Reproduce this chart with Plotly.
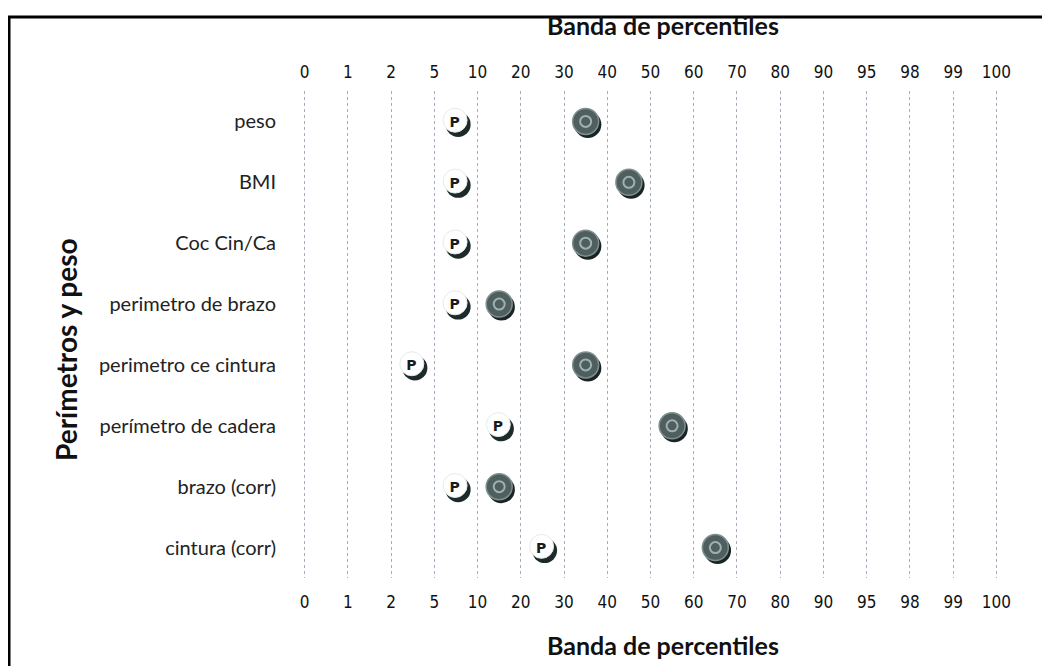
import plotly.graph_objects as go

# ---- data ----
tick_labels = ["0", "1", "2", "5", "10", "20", "30", "40", "50", "60",
               "70", "80", "90", "95", "98", "99", "100"]
rows = ["peso", "BMI", "Coc Cin/Ca", "perimetro de brazo", "perimetro ce cintura",
        "perímetro de cadera", "brazo (corr)", "cintura (corr)"]
# positions expressed in percentile-band index units (band between ticks = .5)
p_band = [3.5, 3.5, 3.5, 3.5, 2.5, 4.5, 3.5, 5.5]
c_band = [6.5, 7.5, 6.5, 4.5, 6.5, 8.5, 4.5, 9.5]

W, H = 1050, 666
OFF = 8  # page body margin
ML, MR, MT, MB = 275, 40, 83, 96
PW, PH = W - ML - MR, H - MT - MB
xunit = PW / 17.0
yunit = PH / 8.0
dx, dy = 2.2 / xunit, 3.0 / yunit

fnt = "Liberation Sans Narrow, DejaVu Sans Condensed, Lato, sans-serif"

fig = go.Figure()
yidx = list(range(len(rows)))

# P markers: shadow, white disk, letter
fig.add_trace(go.Scatter(x=[v + dx for v in p_band], y=[i + dy for i in yidx], mode="markers",
                         marker=dict(size=25, color="#1e2a2a"), hoverinfo="skip", showlegend=False))
fig.add_trace(go.Scatter(x=[v - 0.02 for v in p_band], y=[i - 0.02 for i in yidx], mode="markers",
                         marker=dict(size=24, color="white", line=dict(color="#e4ecec", width=1)),
                         hoverinfo="skip", showlegend=False))
fig.add_trace(go.Scatter(x=[v - 0.03 for v in p_band], y=[i + 0.03 for i in yidx], mode="text",
                         text=["<b>P</b>"] * len(rows), textposition="middle center",
                         textfont=dict(family="DejaVu Sans", size=14, color="#1a1a1a"),
                         hoverinfo="skip", showlegend=False))
# dark markers
fig.add_trace(go.Scatter(x=[v + dx for v in c_band], y=[i + dy for i in yidx], mode="markers",
                         marker=dict(size=27, color="#1a2424"), hoverinfo="skip", showlegend=False))
fig.add_trace(go.Scatter(x=c_band, y=yidx, mode="markers",
                         marker=dict(size=26, color="#4f5f60",
                                     line=dict(color="#7f8f90", width=1.5)),
                         hoverinfo="skip", showlegend=False))
fig.add_trace(go.Scatter(x=c_band, y=yidx, mode="markers",
                         marker=dict(size=11, symbol="circle-open", color="#9fb0b0",
                                     line=dict(color="#a8b8b8", width=2)),
                         hoverinfo="skip", showlegend=False))

axis_common = dict(range=[-0.5, 16.5], tickmode="array", tickvals=list(range(17)),
                   ticktext=tick_labels, showgrid=True, gridcolor="#a4acc0",
                   griddash="dot", gridwidth=1, zeroline=False, showline=False,
                   ticks="", tickfont=dict(family=fnt, size=17, color="#111"))
fig.update_layout(
    width=W, height=H,
    margin=dict(l=ML, r=MR, t=MT, b=MB),
    paper_bgcolor="white", plot_bgcolor="white",
    xaxis=dict(**axis_common, side="bottom", ticklabelstandoff=12),
    xaxis2=dict(**axis_common, side="top", overlaying="x", ticklabelstandoff=9, matches="x"),
    yaxis=dict(range=[7.5, -0.5], tickmode="array", tickvals=yidx, ticktext=rows,
               showgrid=False, zeroline=False, showline=False, ticks="",
               ticklabelstandoff=6,
               tickfont=dict(family="Lato, DejaVu Sans", size=20, color="#222")),
    font=dict(family=fnt),
)
# dummy trace to show top axis
fig.add_trace(go.Scatter(x=[0], y=[0], xaxis="x2", mode="markers",
                         marker=dict(opacity=0), hoverinfo="skip", showlegend=False))

# page-pixel -> paper coordinate helpers
def px_x(px):
    return (px - OFF - ML) / PW

def px_y(py):
    return (H - MB - (py - OFF)) / PH

title_font = dict(family="Lato, DejaVu Sans", size=25, color="#111")
fig.add_annotation(text="<b>Banda de percentiles</b>", xref="paper", yref="paper",
                   x=px_x(663), y=px_y(645), xanchor="center", yanchor="middle",
                   showarrow=False, font=title_font)
fig.add_annotation(text="<b>Banda de percentiles</b>", xref="paper", yref="paper",
                   x=px_x(663), y=px_y(25), xanchor="center", yanchor="middle",
                   showarrow=False, font=title_font)
fig.add_annotation(text="<b>Perímetros y peso</b>", xref="paper", yref="paper",
                   x=px_x(66), y=px_y(350), xanchor="center", yanchor="middle",
                   showarrow=False, textangle=-90,
                   font=dict(family="Lato, DejaVu Sans", size=28, color="#111"))

# frame lines (top and left)
fig.add_shape(type="line", xref="paper", yref="paper",
              x0=px_x(8), x1=px_x(W + OFF), y0=px_y(17), y1=px_y(17),
              line=dict(color="black", width=3))
fig.add_shape(type="line", xref="paper", yref="paper",
              x0=px_x(9), x1=px_x(9), y0=px_y(17), y1=px_y(H + OFF),
              line=dict(color="black", width=3))

fig.write_html("out.html")
